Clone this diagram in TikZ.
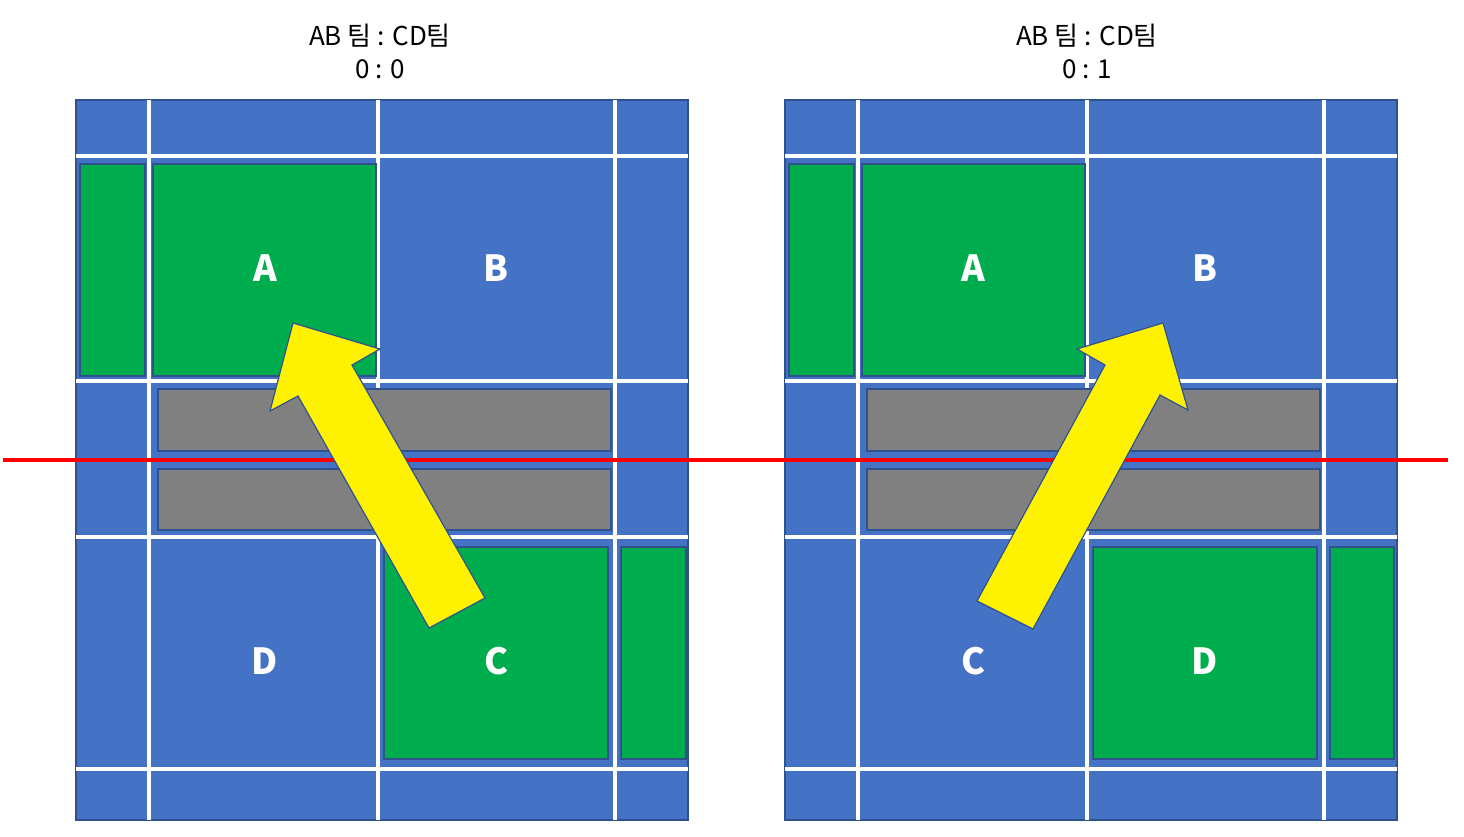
\documentclass[tikz,border=0pt]{standalone}
\usepackage{fontspec}
\setmainfont{Noto Sans CJK KR}
\begin{document}
\begin{tikzpicture}[x=1pt,y=-1pt]
\definecolor{cb}{HTML}{4472C4}\definecolor{cg}{HTML}{00AD4E}\definecolor{bd}{HTML}{2F528F}
\tikzset{court/.style={fill=cb,draw=bd,line width=1.2},
  wl/.style={white,line width=3.5},
  gr/.style={fill=cg,draw=bd,line width=1.2},
  gy/.style={fill=gray,draw=bd,line width=1.2},
  arr/.style={fill=yellow,draw=bd,line width=1.2},
  lab/.style={text=white,font=\fontsize{36}{36}\selectfont\bfseries},
  ttl/.style={font=\fontsize{26}{33}\selectfont,align=center}}
\useasboundingbox (0,0) rectangle (1464,836);
\foreach \o in {0,709}{
\begin{scope}[xshift=\o]
\draw[court] (76,100) rectangle (688,820);
\foreach \x in {149,378,615} \draw[wl] (\x,100) -- (\x,820);
\foreach \y in {156,381,537,769} \draw[wl] (76,\y) -- (688,\y);
\draw[gy] (158,389) rectangle (611,451);
\draw[gy] (158,469) rectangle (611,530);
\draw[gr] (80,164) rectangle (145,376);
\draw[gr] (153,164) rectangle (376,376);
\end{scope}}
\draw[gr] (384,547) rectangle (608,759);
\draw[gr] (621,547) rectangle (686,759);
\draw[gr] (1093,547) rectangle (1317,759);
\draw[gr] (1330,547) rectangle (1394,759);
\node[ttl] (t1) at (380,51) {AB 팀 : CD팀\\0 : 0};
\node[ttl] (t2) at (1087,51) {AB 팀 : CD팀\\0 : 1};
\node[lab] (A1) at (265,268) {A};
\node[lab] (B1) at (496,268) {B};
\node[lab] (D1) at (265,661) {D};
\node[lab] (C1) at (496,661) {C};
\node[lab] (A2) at (973,268) {A};
\node[lab] (B2) at (1205,268) {B};
\node[lab] (C2) at (973,661) {C};
\node[lab] (D2) at (1205,661) {D};
\draw[red,line width=3.5] (3,460) -- (1448,460);
\draw[arr] (429,628) -- (485,598) -- (352,365) -- (380,349) -- (293,323) -- (270,411) -- (298,396) -- cycle;
\draw[arr] (977,601) -- (1033,629) -- (1160,395) -- (1188,410) -- (1163,323) -- (1077,349) -- (1105,365) -- cycle;
\end{tikzpicture}
\end{document}
